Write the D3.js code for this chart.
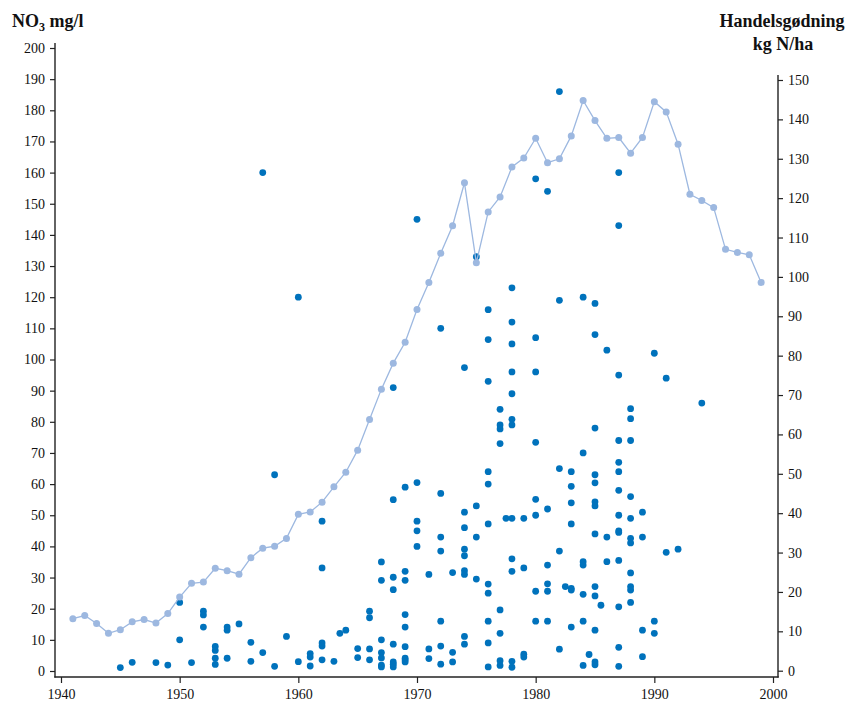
<!DOCTYPE html>
<html>
<head>
<meta charset="utf-8">
<script src="https://cdn.jsdelivr.net/npm/d3@7"></script>
<style>
  html, body { margin: 0; padding: 0; background: #fff; }
  svg { display: block; }
  text { font-family: "Liberation Serif", "Times New Roman", serif; fill: #111; }
</style>
</head>
<body>
<svg id="chart" width="850" height="704"></svg>
<script>
// Commercial fertiliser use, kg N per hectare, by year (right axis)
const fertYears = [1941,1942,1943,1944,1945,1946,1947,1948,1949,1950,
  1951,1952,1953,1954,1955,1956,1957,1958,1959,1960,
  1961,1962,1963,1964,1965,1966,1967,1968,1969,1970,
  1971,1972,1973,1974,1975,1976,1977,1978,1979,1980,
  1981,1982,1983,1984,1985,1986,1987,1988,1989,1990,
  1991,1992,1993,1994,1995,1996,1997,1998,1999];
const fertValues = [13.2,14.0,12.0,9.5,10.4,12.4,13.0,12.1,14.5,18.7,
  22.2,22.5,26.0,25.4,24.5,28.7,31.1,31.6,33.6,39.7,
  40.3,42.8,46.7,50.4,56.0,63.8,71.5,78.1,83.4,91.7,
  98.6,106.0,113.0,123.9,103.6,116.5,120.3,127.9,130.2,135.2,
  129.0,130.0,135.8,144.8,139.7,135.2,135.4,131.4,135.4,144.5,
  141.9,133.7,121.0,119.4,117.6,107.0,106.2,105.6,98.6];

// Nitrate samples, NO3 mg/l, by sampling year (left axis)
const sampleYears = [
  1945,1946,1948,1949,1950,1950,1951,1952,1952,1952,
  1953,1953,1953,1953,1954,1954,1954,1955,1956,1956,
  1957,1957,1958,1958,1959,1960,1960,1961,1961,1961,
  1962,1962,1962,1962,1962,1963,1963.5,1964,1965,1965,
  1966,1966,1966,1966,
  1967,1967,1967,1967,1967,1967,1967,
  1968,1968,1968,1968,1968,1968,1968,1968,
  1969,1969,1969,1969,1969,1969,1969,1969,1969,
  1970,1970,1970,1970,1970,
  1971,1971,1971,
  1972,1972,1972,1972,1972,1972,1972,
  1973,1973,1973,
  1974,1974,1974,1974,1974,1974,1974,1974,1974,
  1975,1975,1975,1975,
  1976,1976,1976,1976,1976,1976,1976,1976,1976,1976,1976,
  1977,1977,1977,1977,1977,1977,1977,1977,1977.5,
  1978,1978,1978,1978,1978,1978,1978,1978,1978,1978,1978,1978,
  1979,1979,1979,1979,
  1980,1980,1980,1980,1980,1980,1980,1980,
  1981,1981,1981,1981,1981,1981,
  1982,1982,1982,1982,1982,1982.5,
  1983,1983,1983,1983,1983,1983,1983,
  1984,1984,1984,1984,1984,1984,1984,1984.5,
  1985,1985,1985,1985,1985,1985,1985,1985,1985,1985,1985,1985,1985,1985.5,
  1986,1986,1986,
  1987,1987,1987,1987,1987,1987,1987,1987,1987,1987,1987,1987,1987,1987,
  1988,1988,1988,1988,1988,1988,1988,1988,1988,1988,1988,
  1989,1989,1989,1989,
  1990,1990,1990,
  1991,1991,1992,1994];
const sampleValues = [
  1.1,2.8,2.7,1.9,10,22,2.7,19.2,18.0,14.1,
  7.9,6.6,4.1,2.1,14.1,13.1,4.1,15.1,9.2,3.1,
  5.9,160,1.5,63,11.1,3.0,120,5.6,4.5,1.6,
  48.1,33.1,9.0,8.0,3.6,3.1,12.1,13.1,7.2,4.3,
  19.2,17.1,7.1,3.6,
  35,29.1,10,5.9,4.2,1.9,1.3,
  91,55,30.1,26.1,8.6,2.9,2.2,1.3,
  59,32,29.1,18.1,14.1,7.8,4.1,3.5,2.9,
  145,60.5,48.1,45,40,
  31,7.1,4.0,
  110,57,43,38.5,16,8.0,2.2,
  31.6,6.0,2.9,
  97.4,51,46,39.1,37.0,32.2,31.0,11.1,8.6,
  133,53,43,29.5,
  116,106.4,93,64,60,47.2,27.9,25,16,9.0,1.3,
  84,79,77.7,73,19.6,12.1,3.3,1.8,49,
  123,112,105,96,89,80.8,79,49,36,32,3.1,1.2,
  49,33.1,5.4,4.5,
  158,107,96,73.4,55.1,50,25.6,16,
  154,52,34,28,25.6,16,
  186,119,65,38.5,7,27.1,
  64,59.3,54,47.2,26.5,26.0,14.1,
  120,70,35.1,34,24.6,16,1.8,5.3,
  118,108,78,63,60.4,54.3,53,44,27.1,24.1,13.1,2.9,2.0,21.1,
  103,43,35.1,
  160,143,95,74,67,64,58,50,45,44.5,35.5,20.6,7.6,1.5,
  84.2,81,74,56,49,42.6,41.1,31.5,27.1,26,22,
  51,43,13.1,4.6,
  102,16,12.1,
  94,38.1,39.1,86];

// Axis ticks
const yearTicks = [1940,1950,1960,1970,1980,1990,2000];
const nitrateTicks = d3.range(0, 201, 10);
const fertTicks = d3.range(0, 151, 10);

const svg = d3.select("#chart");

const x = d3.scaleLinear().domain([1940, 2000]).range([61, 773]);
const yL = d3.scaleLinear().domain([0, 200]).range([671, 48]);
const yR = d3.scaleLinear().domain([0, 150]).range([670.7, 80]);

const axisColor = "#222";
const fontSize = "14px";

// Left axis
const gL = svg.append("g").attr("transform", "translate(55,0)")
  .call(d3.axisLeft(yL).tickValues(nitrateTicks).tickSize(5).tickSizeOuter(0).tickPadding(5));
gL.select(".domain").remove();
gL.selectAll("line").attr("stroke", axisColor).attr("stroke-width", 1.2);
gL.selectAll("text").style("font-size", fontSize).style("font-family", "'Liberation Serif', serif");
svg.append("line").attr("x1", 55).attr("x2", 55).attr("y1", 43).attr("y2", 677.5)
  .attr("stroke", axisColor).attr("stroke-width", 1.4);

// Right axis
const gR = svg.append("g").attr("transform", "translate(778,0)")
  .call(d3.axisRight(yR).tickValues(fertTicks).tickSize(5).tickSizeOuter(0).tickPadding(5));
gR.select(".domain").remove();
gR.selectAll("line").attr("stroke", axisColor).attr("stroke-width", 1.2);
gR.selectAll("text").style("font-size", fontSize).style("font-family", "'Liberation Serif', serif");
svg.append("line").attr("x1", 778).attr("x2", 778).attr("y1", 75).attr("y2", 677.5)
  .attr("stroke", axisColor).attr("stroke-width", 1.4);

// Bottom axis
const gB = svg.append("g").attr("transform", "translate(0,677)")
  .call(d3.axisBottom(x).tickValues(yearTicks).tickFormat(d3.format("d")).tickSize(6).tickSizeOuter(0).tickPadding(6));
gB.select(".domain").remove();
gB.selectAll("line").attr("stroke", axisColor).attr("stroke-width", 1.2);
gB.selectAll("text").style("font-size", fontSize).style("font-family", "'Liberation Serif', serif");
svg.append("line").attr("x1", 54.3).attr("x2", 778.7).attr("y1", 677).attr("y2", 677)
  .attr("stroke", axisColor).attr("stroke-width", 1.4);

// Nitrate samples
svg.append("g").selectAll("circle")
  .data(sampleYears.map((yr, i) => ({ yr, v: sampleValues[i] })))
  .join("circle")
  .attr("cx", d => x(d.yr))
  .attr("cy", d => yL(d.v))
  .attr("r", 3.4)
  .attr("fill", "#0072bc");

// Fertiliser line with markers
const fert = fertYears.map((yr, i) => ({ yr, v: fertValues[i] }));
const lightBlue = "#9db8e0";
svg.append("path")
  .datum(fert)
  .attr("fill", "none")
  .attr("stroke", lightBlue)
  .attr("stroke-width", 1.3)
  .attr("d", d3.line().x(d => x(d.yr)).y(d => yR(d.v)));
svg.append("g").selectAll("circle")
  .data(fert)
  .join("circle")
  .attr("cx", d => x(d.yr))
  .attr("cy", d => yR(d.v))
  .attr("r", 3.5)
  .attr("fill", lightBlue);

// Axis titles
const leftTitle = svg.append("text")
  .attr("x", 12).attr("y", 27)
  .style("font-size", "18px").style("font-weight", "bold");
leftTitle.append("tspan").text("NO");
leftTitle.append("tspan").attr("dy", 4).style("font-size", "12px").text("3");
leftTitle.append("tspan").attr("dy", -4).text(" mg/l");

svg.append("text")
  .attr("x", 782).attr("y", 27)
  .attr("text-anchor", "middle")
  .style("font-size", "18px").style("font-weight", "bold")
  .text("Handelsgødning");
svg.append("text")
  .attr("x", 783).attr("y", 50)
  .attr("text-anchor", "middle")
  .style("font-size", "18px").style("font-weight", "bold")
  .text("kg N/ha");
</script>
</body>
</html>
